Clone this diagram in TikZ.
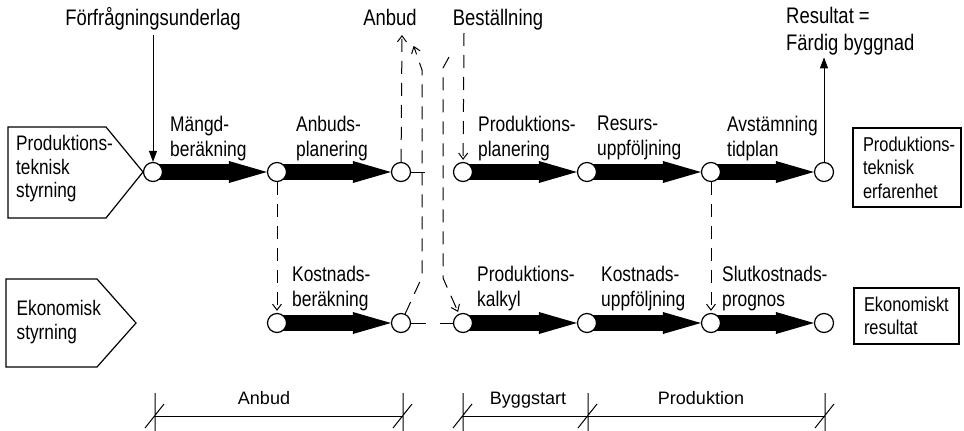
\documentclass[tikz,border=0pt]{standalone}
\usepackage{fontspec}
\setmainfont{Liberation Sans}
\newfontfamily\narrowsans{Liberation Sans}[FakeStretch=0.82]
\usetikzlibrary{arrows.meta,backgrounds}

\begin{document}
\begin{tikzpicture}[x=1pt,y=-1pt,
  dot/.style={circle,draw,line width=1.2pt,fill=white,minimum size=19pt,inner sep=0pt},
  flow/.style={line width=16pt,-{Triangle[length=38pt,width=22pt,line width=0pt]}},
  thinarrow/.style={line width=1pt,-{Triangle[length=11pt,width=8pt]}},
  dasharrow/.style={line width=1pt,dash pattern=on 13pt off 9pt,shorten >=2pt,-{Straight Barb[length=6pt,width=9pt]}},
  lbl/.style={anchor=north west,inner sep=0pt,align=left,font=\narrowsans\fontsize{21.2}{24.5}\selectfont},
  head/.style={inner sep=0pt,font=\narrowsans\fontsize{22.5}{27}\selectfont},
  phase/.style={anchor=base,inner sep=0pt,font=\fontsize{18}{21}\selectfont},
  boxtext/.style={anchor=north west,inner sep=0pt,align=left,font=\narrowsans\fontsize{21}{23.5}\selectfont},
  outbox/.style={draw,line width=2pt,inner xsep=10pt,inner ysep=0pt,align=left,
    font={\narrowsans\fontsize{20}{23.5}\selectfont\hyphenpenalty=10000\exhyphenpenalty=10000}}]
\useasboundingbox (0,0) rectangle (964,431);

% styrning
\draw[line width=1.2pt] (8,127) -- (106,127) -- (143,172) -- (106,218) -- (8,218) -- cycle;
\draw[line width=1.2pt] (6,279) -- (97,279) -- (136,323) -- (97,367) -- (6,367) -- cycle;
\node[boxtext] (pts) at (16,135.5) {Produktions-\\teknisk\\styrning};
\node[boxtext] (eks) at (16.5,300.5) {Ekonomisk\\styrning};

% resultat
\node[outbox,minimum width=108pt,minimum height=79pt,text width=88pt] (pte) at (907,167.5) {Produktions-\\teknisk\\erfarenhet};
\node[outbox,minimum width=105pt,minimum height=56pt,text width=85pt] (ekr) at (906.5,316) {Ekonomiskt\\resultat};

\foreach \n/\x in {1/153,2/277,3/401,4/463,5/587,6/711,7/824}
  \node[dot] (t\n) at (\x,172) {};
\foreach \n/\x in {1/277,2/401,3/463,4/587,5/711,6/824}
  \node[dot] (b\n) at (\x,323) {};

\begin{scope}[on background layer]
\foreach \a/\b in {t1/t2,t2/t3,t4/t5,t5/t6,t6/t7,b1/b2,b3/b4,b4/b5,b5/b6}
  \draw[flow] (\a.center) -- (\b);
\end{scope}

\foreach \n/\x/\y/\txt in {1/170/116/{Mängd-\\beräkning},2/296/116/{Anbuds-\\planering},
    3/478/116/{Produktions-\\planering},4/597/116/{Resurs-\\uppföljning},5/727/116/{Avstämning\\tidplan},
    6/292/266/{Kostnads-\\beräkning},7/477/266/{Produktions-\\kalkyl},
    8/601/266/{Kostnads-\\uppföljning},9/722/266/{Slutkostnads-\\prognos}}
  \node[lbl] (l\n) at (\x,\y) {\txt};

\node[head,anchor=base] (ffu) at (153,25) {Förfrågningsunderlag};
\node[head,anchor=base] (anb) at (390,25) {Anbud};
\node[head,anchor=base] (bst) at (498,25) {Beställning};
\node[head,anchor=north west,align=left] (res) at (786,7) {Resultat =\\Färdig byggnad};
\draw[thinarrow,shorten <=5pt] (ffu) -- (t1);
\draw[thinarrow,shorten >=2pt] (t7) -- (t7 |- res.south);

% streckade
\coordinate (anbtip) at (402,33);
\coordinate (anbtip2) at (413,44);
\coordinate (bsttop) at (464,33);
\coordinate (bsttop2) at (449,57);
\coordinate (stub) at (425,172);
\draw[dasharrow] (t2) -- (b1);
\draw[dasharrow] (t6) -- (b5);
\draw[dasharrow] (t3) -- (anbtip);
\draw[dasharrow] (b2) -- (422,277) -- (422,70) -- (anbtip2);
\draw[dasharrow] (bsttop) -- (t4);
\draw[dasharrow] (bsttop2) -- (443,68) -- (443,278) -- (b3);
\draw[line width=1pt] (t3) -- (stub);
\draw[line width=1pt,dash pattern=on 15pt off 14pt] (b2) -- (b3);

% tidslinje
\foreach \n/\x in {1/155,2/403,3/463,4/588,5/825}
  \coordinate (m\n) at (\x,416);
\draw[line width=1pt] (m1) -- (m2) (m3) -- (m5);
\foreach \n in {1,...,5}
  \draw[line width=1pt] (m\n) ++(0,-23) -- ++(0,38) (m\n) ++(-10,12) -- ++(19,-24);
\node[phase] (ph1) at (264,404) {Anbud};
\node[phase] (ph2) at (528,404) {Byggstart};
\node[phase] (ph3) at (701,404) {Produktion};
\end{tikzpicture}
\end{document}
